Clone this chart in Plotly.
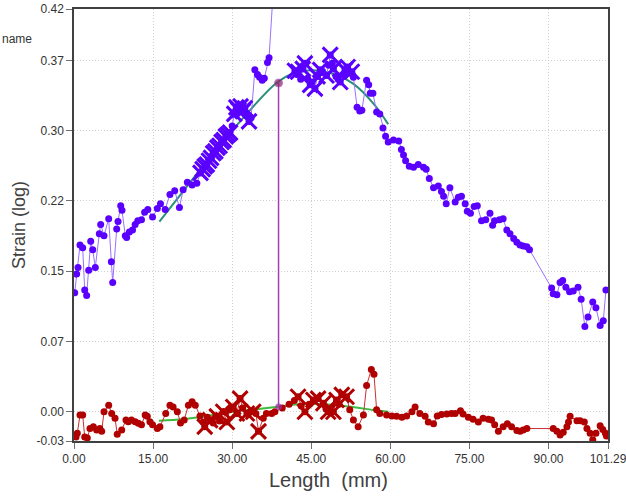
import plotly.graph_objects as go

# ---------------- data ----------------
# upper (purple) strain profile
P_X = [0.13, 0.5, 0.76, 1.14, 1.65, 2.03, 2.4, 2.79, 3.17, 3.55, 4.04, 4.8, 5.06, 5.69, 6.58, 7.08, 7.34,
       8.1, 8.35, 8.86, 9.1, 9.73, 9.99, 10.5, 11.1, 11.6, 12.1, 12.8, 13.4, 14.0, 14.9, 15.8, 16.4, 17.3,
       18.2, 19.1, 20.0, 20.7, 21.5, 22.4, 23.3,
       24.0, 24.4, 24.8, 25.2, 25.6, 26.0, 26.4, 26.8, 27.2, 27.6, 28.0, 28.4, 28.8, 29.2, 29.6, 30.0,
       30.4, 30.8, 31.2, 31.6, 32.0, 32.4, 32.8, 33.2, 33.6, 34.3, 34.8, 35.2, 35.7, 36.1, 36.7, 37.0, 37.8,
       None,
       41.9, 42.3, 42.5, 43.0, 43.4, 43.8, 44.3, 44.8, 45.2, 45.7, 46.2, 46.7, 47.2, 47.9, 48.3, 48.6,
       49.0, 49.2, 49.7, 50.1, 50.5, 51.0, 51.4, 51.9, 52.3, 52.7, 53.0, 53.7, 54.2, 54.6, 55.5, 55.9,
       56.2, 56.7, 57.4, 58.0, 58.6, 59.1, 59.6, 60.6, 61.6, 62.1, 62.5, 62.9, 63.6, 64.4, 65.3, 66.3,
       66.8, 67.4, 68.2, 69.1, 69.7, 70.1, 70.6, 71.3, 72.3, 72.9, 73.5, 74.2, 74.6, 75.2, 75.9, 76.5,
       77.3, 78.1, 78.9, 79.4, 79.8, 80.7, 81.4, 82.1, 82.7, 83.4, 84.0, 84.6, 85.2, 85.9, 86.4, 90.6,
       90.9, 91.6, 92.2, 92.7, 93.3, 94.0, 94.7, 95.6, 96.2, 96.9, 97.5, 98.4, 99.0, 99.8, 100.4, 100.9]
P_Y = [0.127, 0.147, 0.154, 0.178, 0.175, 0.130, 0.124, 0.151, 0.182, 0.173, 0.154, 0.190, 0.200, 0.188, 0.206, 0.160, 0.138,
       0.195, 0.203, 0.220, 0.215, 0.188, 0.186, 0.192, 0.194, 0.200, 0.204, 0.205, 0.213, 0.216, 0.208, 0.217, 0.222, 0.216,
       0.232, 0.236, 0.218, 0.237, 0.245, 0.242, 0.244,
       0.255, 0.259, 0.262, 0.264, 0.268, 0.271, 0.276, 0.278, 0.282, 0.284, 0.288, 0.290, 0.294, 0.296, 0.298, 0.305,
       0.318, 0.325, 0.322, 0.326, 0.321, 0.324, 0.318, 0.310, 0.314, 0.365, 0.360, 0.357, 0.354, 0.356, 0.373, 0.378, 0.45,
       None,
       0.364, 0.360, 0.363, 0.355, 0.366, 0.372, 0.356, 0.349, 0.352, 0.345, 0.358, 0.365, 0.362, 0.359, 0.370, 0.381,
       0.372, 0.366, 0.358, 0.355, 0.352, 0.360, 0.365, 0.368, 0.362, 0.363, 0.357, 0.325, 0.321, 0.322, 0.354, 0.349,
       0.340, 0.340, 0.320, 0.318, 0.303, 0.294, 0.288, 0.290, 0.289, 0.280, 0.274, 0.268, 0.262, 0.261, 0.264, 0.261,
       0.259, 0.249, 0.239, 0.241, 0.235, 0.230, 0.222, 0.239, 0.224, 0.229, 0.230, 0.222, 0.214, 0.212, 0.219, 0.220,
       0.204, 0.205, 0.212, 0.199, 0.204, 0.205, 0.206, 0.194, 0.190, 0.185, 0.181, 0.178, 0.177, 0.176, 0.173, 0.132,
       0.126, 0.125, 0.138, 0.140, 0.133, 0.128, 0.129, 0.133, 0.120, 0.091, 0.101, 0.117, 0.111, 0.092, 0.097, 0.130]
# positions on the upper profile that are flagged with a cross
P_CROSS_X = [24.0, 24.4, 24.8, 25.2, 25.6, 26.0, 26.4, 26.8, 27.2, 27.6, 28.0, 28.4, 28.8, 29.2, 29.6,
             30.4, 30.8, 31.2, 31.6, 32.0, 32.4, 33.2,
             41.9, 42.5, 43.4, 43.8, 44.8, 45.7, 46.2, 46.7, 47.9, 48.6, 49.2, 50.5, 51.4, 51.9, 52.7]

# lower (red) strain profile
R_X = [0.38, 0.63, 1.14, 1.65, 2.03, 2.53, 3.03, 3.67, 4.3, 4.9, 5.25, 5.69, 6.58, 7.15, 7.78, 8.2, 9.05,
       9.86, 10.3, 10.9, 11.6, 12.2, 12.8, 13.5, 13.9, 14.4, 14.9, 15.8, 16.3, 17.4, 18.2, 18.8, 19.6,
       20.2, 20.9, 21.7, 22.4, 23.0, 23.9, 24.5, 24.8, 25.3, 25.8, 26.4, 27.1, 27.6, 28.3, 29.0, 29.5,
       30.2, 30.9, 31.5, 32.0, 32.8, 33.4, 34.0, 34.5, 35.0, 35.9, 36.5, 37.5, 38.1, 39.5, 40.8, 41.8,
       42.5, 43.1, 43.8, 44.6, 45.4, 46.3, 47.3, 47.8, 48.2, 49.2, 49.8, 50.3, 50.8, 51.7, 52.3, 53.0,
       53.9, 54.9, 55.5, 56.4, 56.9, 57.4, 58.0, 59.3, 60.3, 61.2, 62.2, 63.1, 64.1, 64.7, 65.6, 66.6,
       67.2, 68.2, 68.9, 69.7, 70.7, 71.6, 72.3, 73.3, 73.8, 74.8, 75.7, 76.7, 77.6, 78.6, 79.2, 79.8,
       80.5, 81.4, 82.2, 83.0, 84.0, 84.6, 85.2, 85.9, 90.9, 91.6, 92.2, 92.8, 93.5, 93.8, 94.1, 95.4,
       96.0, 96.8, 97.3, 97.9, 98.4, 99.0, 99.8, 100.3, 100.8, 101.0]
R_Y = [-0.027, -0.023, -0.0035, -0.0035, -0.027, -0.028, -0.018, -0.016, -0.0195, -0.018, -0.021, 0.0, 0.007, -0.002, -0.007, -0.024, -0.0195,
       -0.009, -0.0107, -0.009, -0.0107, -0.0124, -0.014, -0.0035, -0.005, -0.0107, -0.014, -0.018, -0.016, -0.002, 0.007, 0.005, 0.0,
       -0.012, -0.009, 0.007, 0.0107, 0.007, -0.0046, -0.011, -0.016, -0.006, -0.009, -0.012, -0.005, -0.010, 0.0, -0.011, 0.002,
       0.005, -0.002, 0.014, 0.004, -0.002, 0.0, 0.0, -0.002, -0.021, -0.007, -0.002, -0.002, 0.0, 0.004, 0.008, 0.012,
       0.016, 0.006, 0.0, 0.008, 0.0125, 0.014, 0.009, 0.003, 0.0, 0.0, 0.0125, 0.008, 0.018, 0.016, 0.002, -0.009,
       -0.016, -0.0035, 0.028, 0.045, 0.040, 0.002, -0.002, -0.0035, -0.0046, -0.005, -0.006, -0.0046, 0.0, 0.005, -0.002, -0.005,
       -0.011, -0.013, -0.0046, -0.003, -0.0025, -0.002, -0.002, 0.001, -0.0025, -0.006, -0.008, -0.011, -0.007, -0.008, -0.009, -0.014,
       -0.021, -0.016, -0.013, -0.016, -0.020, -0.021, -0.0195, -0.018, -0.018, -0.021, -0.025, -0.022, -0.016, -0.011, -0.005, -0.0096,
       -0.0096, -0.011, -0.018, -0.023, -0.030, -0.023, -0.015, -0.019, -0.023, -0.026]
R_CROSS_X = [24.8, 25.8, 27.1, 28.3, 29.0, 30.2, 30.9, 31.5, 32.8, 34.0, 35.0,
             42.5, 43.8, 45.4, 46.3, 47.3, 48.2, 49.2, 49.8, 50.8, 51.7]

# fitted curves
FIT_TOP_X = [16.2, 20.1, 23.6, 28.5, 33.4, 38.4, 41.9, 45.4, 49.5, 53.0, 56.8, 59.6]
FIT_TOP_Y = [0.203, 0.231, 0.256, 0.290, 0.322, 0.351, 0.362, 0.3646, 0.360, 0.350, 0.329, 0.307]
FIT_BOT_X = [16.1, 20.7, 24.0, 28.0, 32.0, 35.0, 38.8, 42.5, 47.3, 52.4, 56.8, 59.6]
FIT_BOT_Y = [-0.0096, -0.008, -0.0055, -0.002, 0.0015, 0.003, 0.0053, 0.008, 0.008, 0.0053, 0.0018, 0.0]

# cursor
CURSOR_X = 38.8
CURSOR_Y = [0.0053, 0.351]

# axes
X_RANGE = [0, 101.29]
X_TICKS = [0, 15, 30, 45, 60, 75, 90, 101.29]
X_TICKTEXT = ["0.00", "15.00", "30.00", "45.00", "60.00", "75.00", "90.00", "101.29"]
Y_RANGE = [-0.0313, 0.43]
Y_TICKS = [-0.0313, 0.0, 0.075, 0.15, 0.225, 0.30, 0.375, 0.43]
Y_TICKTEXT = ["-0.03", "0.00", "0.07", "0.15", "0.22", "0.30", "0.37", "0.42"]

# ---------------- figure ----------------
PURPLE = "#5a00ff"
PURPLE_LINE = "#9a70ff"
RED = "#b00000"
RED_LINE = "#cc3030"
FONT = "Liberation Sans, Arial"

p_lookup = {x: y for x, y in zip(P_X, P_Y) if x is not None}
r_lookup = dict(zip(R_X, R_Y))

fig = go.Figure()

fig.add_trace(go.Scatter(x=FIT_TOP_X, y=FIT_TOP_Y, mode="lines", line=dict(color="#2a8f7a", width=2, shape="spline"),
                         showlegend=False, hoverinfo="skip"))
fig.add_trace(go.Scatter(x=FIT_BOT_X, y=FIT_BOT_Y, mode="lines", line=dict(color="#3cbb3c", width=2, shape="spline"),
                         showlegend=False, hoverinfo="skip"))

fig.add_trace(go.Scatter(x=P_X, y=P_Y, mode="lines+markers", connectgaps=False,
                         line=dict(color=PURPLE_LINE, width=1),
                         marker=dict(color=PURPLE, size=7), showlegend=False))
fig.add_trace(go.Scatter(x=P_CROSS_X, y=[p_lookup[x] for x in P_CROSS_X], mode="markers",
                         marker=dict(symbol="x-thin", size=15, line=dict(color=PURPLE, width=3)), showlegend=False))

fig.add_trace(go.Scatter(x=R_X, y=R_Y, mode="lines+markers",
                         line=dict(color=RED_LINE, width=1),
                         marker=dict(color=RED, size=7), showlegend=False))
fig.add_trace(go.Scatter(x=R_CROSS_X, y=[r_lookup[x] for x in R_CROSS_X], mode="markers",
                         marker=dict(symbol="x-thin", size=15, line=dict(color=RED, width=3)), showlegend=False))

fig.add_trace(go.Scatter(x=[CURSOR_X, CURSOR_X], y=CURSOR_Y, mode="lines+markers",
                         line=dict(color="#a040b0", width=1.5),
                         marker=dict(color=["#9a30a0", "#8b2060"], size=[6, 8]), showlegend=False))

fig.add_annotation(text="name", xref="paper", yref="paper", x=-74 / 534, y=(441 - 39) / 432,
                   xanchor="left", yanchor="middle", showarrow=False,
                   font=dict(family=FONT, size=12, color="#333333"))
fig.add_annotation(text="Length\u00a0\u00a0(mm)", xref="paper", yref="paper", x=(328 - 74) / 534, y=(441 - 480) / 432,
                   xanchor="center", yanchor="middle", showarrow=False,
                   font=dict(family=FONT, size=20, color="#404040"))

axis_common = dict(showline=True, linecolor="#404040", linewidth=1.5, mirror=True,
                   showgrid=True, gridcolor="#cfcfcf", griddash="1px,2px", gridwidth=1,
                   ticks="outside", ticklen=6, tickcolor="#707070", zeroline=False,
                   ticklabeloverflow="allow",
                   tickfont=dict(family=FONT, size=12, color="#333333"))

fig.update_xaxes(range=X_RANGE, tickvals=X_TICKS, ticktext=X_TICKTEXT, **axis_common)
fig.update_yaxes(range=Y_RANGE, tickvals=Y_TICKS, ticktext=Y_TICKTEXT,
                 title=dict(text="Strain (log)", font=dict(family=FONT, size=18, color="#404040"),
                            standoff=6),
                 **axis_common)

fig.update_layout(width=626, height=497, autosize=False,
                  margin=dict(l=74, r=18, t=9, b=56, autoexpand=False),
                  plot_bgcolor="white", paper_bgcolor="white")

fig.write_html("out.html", config={"displayModeBar": False},
               post_script="document.body.style.margin='0';")
